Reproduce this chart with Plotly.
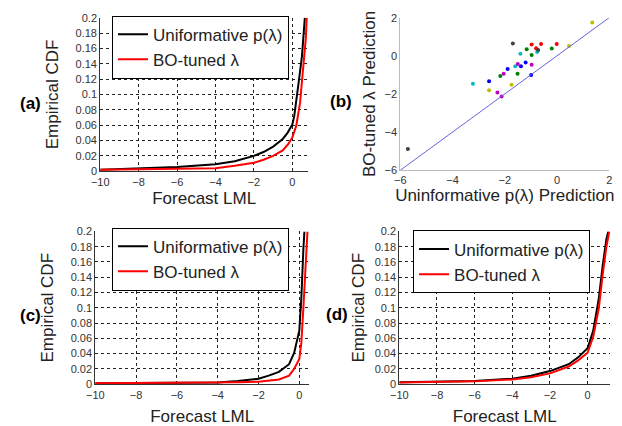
import plotly.graph_objects as go

W, H = 622, 426

# ---------------- data ----------------
# Panel (a)
a_unif_x = [-10, -8, -6, -4, -3, -2, -1.5, -1, -0.5, -0.25, 0, 0.1, 0.2, 0.35, 0.5, 0.58, 0.65]
a_unif_y = [0.002, 0.004, 0.0055, 0.009, 0.013, 0.02, 0.025, 0.032, 0.042, 0.05, 0.061, 0.072, 0.089, 0.12, 0.15, 0.175, 0.2]
a_bo_x = [-10, -8, -6, -4, -3, -2, -1.5, -1, -0.5, -0.2, 0, 0.2, 0.4, 0.55, 0.65, 0.7, 0.75]
a_bo_y = [0.002, 0.0025, 0.003, 0.004, 0.007, 0.011, 0.015, 0.02, 0.027, 0.036, 0.044, 0.059, 0.089, 0.131, 0.16, 0.173, 0.2]

# Panel (b)
b_colors = ["#0000ff", "#008000", "#ff0000", "#00bfbf", "#bf00bf", "#bfbf00", "#404040"]
b_x = [
    [-1.20, -1.38, -1.89, -0.99, -2.60],          # blue
    [-1.16, -0.20, -0.97, -1.51, -2.17],          # green
    [-0.61, -0.97, -0.01, -0.80],                 # red
    [-1.40, -0.76, -1.60, -3.22],                 # cyan
    [-1.50, -0.97, -2.04, -2.28, -2.12],          # magenta
    [1.35, 0.46, -1.74, -2.60],                   # yellow
    [-5.71, -1.69, -0.72],                        # black
]
b_y = [
    [-0.35, -0.55, -0.69, -1.01, -1.34],
    [0.35, 0.38, 0.04, -0.94, -1.06],
    [0.62, 0.59, 0.62, 0.40],
    [0.11, 0.20, -0.55, -1.46],
    [-0.43, -0.47, -0.94, -1.93, -2.14],
    [1.75, 0.52, -1.52, -1.80],
    [-4.88, 0.65, 0.30],
]
b_line = [-6, 2]

# Panel (c)
c_unif_x = [-10, -8, -6, -4, -3, -2, -1.5, -1, -0.5, -0.25, 0, 0.1, 0.2, 0.25]
c_unif_y = [0.001, 0.0012, 0.0015, 0.002, 0.004, 0.007, 0.011, 0.016, 0.026, 0.041, 0.07, 0.113, 0.177, 0.2]
c_bo_x = [-10, -8, -6, -4, -3, -2, -1, -0.5, -0.25, 0, 0.1, 0.2, 0.3, 0.4]
c_bo_y = [0.001, 0.0012, 0.0015, 0.002, 0.0025, 0.003, 0.006, 0.011, 0.02, 0.033, 0.054, 0.1, 0.147, 0.2]

# Panel (d)
d_unif_x = [-10, -8, -6, -4, -3, -2, -1, -0.5, 0, 0.3, 0.6, 0.8, 1.0, 1.1]
d_unif_y = [0.0025, 0.003, 0.004, 0.007, 0.011, 0.017, 0.026, 0.035, 0.047, 0.07, 0.113, 0.155, 0.19, 0.2]
d_bo_x = [-10, -8, -6, -4, -3, -2, -1, -0.5, 0, 0.3, 0.6, 0.8, 1.0, 1.15]
d_bo_y = [0.002, 0.0028, 0.0035, 0.006, 0.009, 0.014, 0.023, 0.031, 0.041, 0.062, 0.1, 0.143, 0.18, 0.2]

cdf_yticks = [0, 0.02, 0.04, 0.06, 0.08, 0.1, 0.12, 0.14, 0.16, 0.18, 0.2]
cdf_yticktext = ["0", "0.02", "0.04", "0.06", "0.08", "0.1", "0.12", "0.14", "0.16", "0.18", "0.2"]
cdf_xticks = [-10, -8, -6, -4, -2, 0]
sc_ticks = [-6, -4, -2, 0, 2]

name_unif = "Uniformative p(λ)"
name_bo = "BO-tuned λ"

# ---------------- helpers ----------------
def xd(a, b):
    return [a / W, b / W]

def yd(top, bot):
    return [1 - bot / H, 1 - top / H]

FONT = "Liberation Sans, Arial, sans-serif"
tickfont = dict(family=FONT, size=11, color="#333")
titlefont = dict(family=FONT, size=17, color="#222")

fig = go.Figure()

def cdf_panel(ax, lg, ux, uy, bx, by):
    fig.add_trace(go.Scatter(x=ux, y=uy, mode="lines", name=name_unif,
                             line=dict(color="black", width=2),
                             xaxis="x" + ax, yaxis="y" + ax, legend=lg))
    fig.add_trace(go.Scatter(x=bx, y=by, mode="lines", name=name_bo,
                             line=dict(color="#ff0000", width=2),
                             xaxis="x" + ax, yaxis="y" + ax, legend=lg))

cdf_panel("", "legend", a_unif_x, a_unif_y, a_bo_x, a_bo_y)
for col, xs, ys in zip(b_colors, b_x, b_y):
    fig.add_trace(go.Scatter(x=xs, y=ys, mode="markers", showlegend=False,
                             marker=dict(color=col, size=4),
                             xaxis="x2", yaxis="y2"))
fig.add_trace(go.Scatter(x=b_line, y=b_line, mode="lines", showlegend=False,
                         line=dict(color="#6464dc", width=1),
                         xaxis="x2", yaxis="y2"))
cdf_panel("3", "legend2", c_unif_x, c_unif_y, c_bo_x, c_bo_y)
cdf_panel("4", "legend3", d_unif_x, d_unif_y, d_bo_x, d_bo_y)

def cdf_axes(xdom, ydom, xr, anchor_x, anchor_y, xstand, ystand):
    xa = dict(domain=xdom, range=xr, anchor=anchor_y, tickvals=cdf_xticks,
              showgrid=True, gridcolor="#222", griddash="dot", gridwidth=1,
              showline=True, linecolor="#333", linewidth=1, zeroline=False,
              tickfont=tickfont, ticks="", ticklabelstandoff=1,
              title=dict(text="Forecast LML", font=titlefont, standoff=xstand))
    ya = dict(domain=ydom, range=[0, 0.2], anchor=anchor_x, tickvals=cdf_yticks,
              ticktext=cdf_yticktext,
              showgrid=True, gridcolor="#222", griddash="dot", gridwidth=1,
              showline=True, linecolor="#333", linewidth=1, zeroline=False,
              tickfont=tickfont, ticks="",
              title=dict(text="Empirical CDF", font=titlefont, standoff=ystand))
    return xa, ya

xa1, ya1 = cdf_axes(xd(93, 305), yd(12, 170), [-10, 0.82], "x", "y", 4, 12)
xa3, ya3 = cdf_axes(xd(88, 306), yd(232, 389), [-10, 0.48], "x3", "y3", 10, 12)
xa4, ya4 = cdf_axes(xd(398, 613), yd(232, 389), [-10, 1.2], "x4", "y4", 10, 5)

xa2 = dict(domain=xd(399, 612), range=[-6, 2], anchor="y2", tickvals=sc_ticks,
           showgrid=False, showline=True, linecolor="#bbb", linewidth=1,
           zeroline=False, tickfont=tickfont,
           title=dict(text="Uninformative p(λ) Prediction", font=titlefont, standoff=3))
ya2 = dict(domain=yd(12, 169), range=[-6, 2], anchor="x2", tickvals=sc_ticks,
           showgrid=False, showline=True, linecolor="#bbb", linewidth=1,
           zeroline=False, tickfont=tickfont,
           title=dict(text="BO-tuned λ Prediction", font=titlefont, standoff=4))

def leg(x, y):
    return dict(x=x / W, y=1 - y / H, xanchor="left", yanchor="top",
                bgcolor="white", bordercolor="black", borderwidth=1,
                font=dict(family=FONT, size=17, color="#222"),
                tracegroupgap=0, itemwidth=30)

fig.update_layout(
    width=W, height=H, margin=dict(l=0, r=0, t=0, b=0),
    paper_bgcolor="white", plot_bgcolor="white",
    xaxis=xa1, yaxis=ya1, xaxis2=xa2, yaxis2=ya2,
    xaxis3=xa3, yaxis3=ya3, xaxis4=xa4, yaxis4=ya4,
    legend=leg(105, 10), legend2=leg(105, 228), legend3=leg(412, 231),
)

labels = [("(a)", 22, 100), ("(b)", 339, 98), ("(c)", 22, 318), ("(d)", 334, 317)]
for t, px, py in labels:
    fig.add_annotation(text="<b>" + t + "</b>", x=px / W, y=1 - py / H,
                       xref="paper", yref="paper", showarrow=False,
                       xanchor="center", yanchor="middle",
                       font=dict(family=FONT, size=17, color="black"))

fig.write_html("out.html")
